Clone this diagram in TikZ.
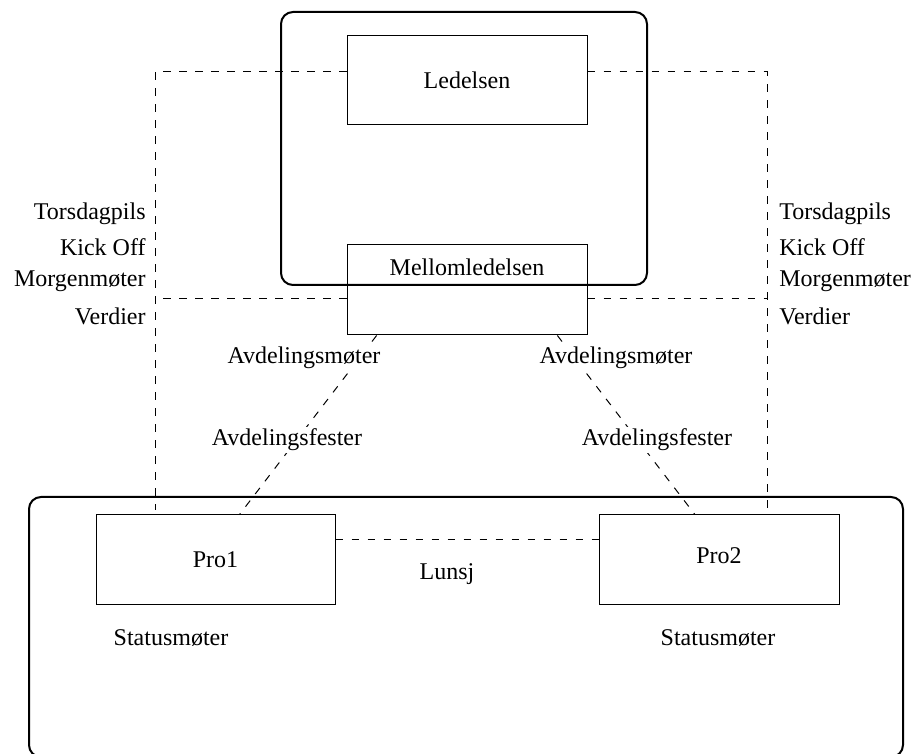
\documentclass[tikz,border=0pt]{standalone}
\usepackage{fontspec}
\setmainfont{Liberation Serif}
\usetikzlibrary{calc}
\begin{document}
\begin{tikzpicture}[x=0.5pt,y=-0.5pt,
  font=\fontsize{12}{14}\selectfont,
  unit/.style={draw, line width=0.5pt, minimum width=120pt, minimum height=45pt, inner sep=0pt},
  group/.style={draw, line width=1pt, rounded corners=6pt, inner sep=0pt},
  link/.style={line width=0.5pt, dash pattern=on 3.8pt off 4.2pt},
  tag/.style={inner sep=1pt, fill=white},
  side/.style={inner sep=0pt}]
\useasboundingbox (0,0) rectangle (912,754);
\clip (0,0) rectangle (912,754);

% management frame and the project frame
\node (mgmt) [group, minimum width=183pt, minimum height=136.5pt] at (464,148.5) {};
\node (projects) [group, minimum width=437pt, minimum height=130pt] at (466,627) {};

% units
\node (led) [unit, minimum height=44.5pt] at (467,80.5) {Ledelsen};
\node (mel) [unit] at (467,290) {};
\node (meltext) at (467,267) {Mellomledelsen};
\node (pro1) [unit, minimum width=119.5pt] at (215.5,560) {Pro1};
\node (pro2) [unit] at (719,560) {};
\node (pro2text) at (719,556) {Pro2};

% corners of the dashed loops
\coordinate (tl) at (155,72);
\coordinate (tr) at (767,72);
\coordinate (ml) at (155,299);
\coordinate (mr) at (767,299);
\coordinate (bl) at (155,510);
\coordinate (br) at (767,510);

% dashed connections
\draw[link] (led.west |- tl) -- (tl) -- (bl);
\draw[link] (led.east |- tr) -- (tr) -- (br);
\draw[link] (mel.west |- ml) -- (ml);
\draw[link] (mel.east |- mr) -- (mr);
\draw[link] ($(mel.south west)!0.125!(mel.south east)$) -- ($(pro1.north west)!0.6!(pro1.north east)$);
\draw[link] ($(mel.south west)!0.875!(mel.south east)$) -- ($(pro2.north west)!0.4!(pro2.north east)$);
\draw[link] ($(pro1.north east)!0.27!(pro1.south east)$) -- ($(pro2.north west)!0.27!(pro2.south west)$);

% activities
\node (lt1) [side, anchor=east] at (146,214) {Torsdagpils};
\node (lt2) [side, anchor=east] at (146,247) {Kick Off};
\node (lt3) [side, anchor=east] at (146,281) {Morgenmøter};
\node (lt4) [side, anchor=east] at (146,316) {Verdier};
\node (rt1) [side, anchor=west] at (779,214) {Torsdagpils};
\node (rt2) [side, anchor=west] at (779,247) {Kick Off};
\node (rt3) [side, anchor=west] at (779,281) {Morgenmøter};
\node (rt4) [side, anchor=west] at (779,316) {Verdier};

\node (am1) [tag] at (304,358) {Avdelingsmøter};
\node (am2) [tag] at (616,358) {Avdelingsmøter};
\node (af1) [tag] at (287,440) {Avdelingsfester};
\node (af2) [tag] at (657,440) {Avdelingsfester};

\node (lunsj) at (447,574) {Lunsj};
\node (st1) at (171,638) {Statusmøter};
\node (st2) at (718,638) {Statusmøter};
\end{tikzpicture}
\end{document}
